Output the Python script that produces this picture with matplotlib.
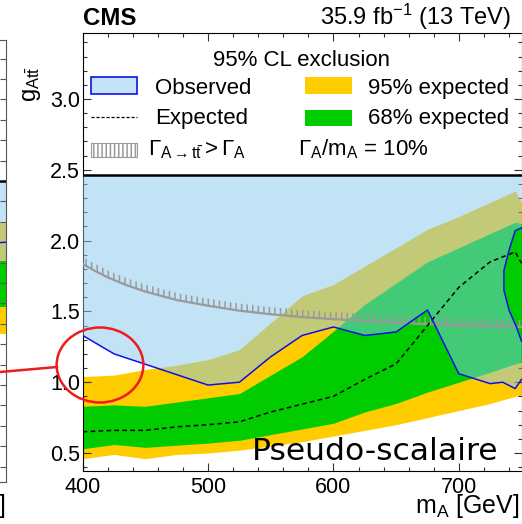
import matplotlib
matplotlib.use("Agg")
import matplotlib.pyplot as plt
from matplotlib.patches import Rectangle, Ellipse
from matplotlib.lines import Line2D
from matplotlib.ticker import MultipleLocator, FormatStrFormatter

plt.rcParams["font.family"] = ["Liberation Sans", "DejaVu Sans"]
plt.rcParams["mathtext.fontset"] = "custom"
plt.rcParams["mathtext.rm"] = "Liberation Sans"
plt.rcParams["mathtext.it"] = "Liberation Sans:italic"
plt.rcParams["mathtext.bf"] = "Liberation Sans:bold"
plt.rcParams["hatch.linewidth"] = 1.1

# ----------------------------
# Limits on g_Att (pseudoscalar A), Gamma_A/m_A = 10%
# ----------------------------
mass = [400, 425, 450, 475, 500, 525, 550, 575, 600, 625, 650, 675, 700, 725, 745, 750]
exp_median = [0.65, 0.66, 0.66, 0.685, 0.70, 0.72, 0.79, 0.845, 0.90, 1.02, 1.13, 1.40, 1.67, 1.85, 1.92, 1.84]
exp68_lo = [0.53, 0.56, 0.54, 0.555, 0.57, 0.59, 0.63, 0.67, 0.71, 0.79, 0.85, 0.93, 1.00, 1.07, 1.13, 1.14]
exp68_hi = [0.83, 0.84, 0.83, 0.86, 0.89, 0.92, 1.05, 1.18, 1.36, 1.55, 1.70, 1.85, 1.95, 2.05, 2.13, 2.12]
exp95_lo = [0.46, 0.49, 0.46, 0.49, 0.50, 0.52, 0.55, 0.58, 0.62, 0.66, 0.70, 0.75, 0.80, 0.85, 0.90, 0.91]
exp95_hi = [1.04, 1.05, 1.09, 1.12, 1.16, 1.23, 1.42, 1.61, 1.69, 1.82, 1.95, 2.08, 2.17, 2.27, 2.35, 2.27]

# observed limit, main contour
obs_mass = [400, 425, 500, 525, 550, 575, 600, 625, 650, 675, 700, 725, 735, 745, 750]
obs_g = [1.33, 1.20, 0.98, 1.00, 1.18, 1.33, 1.39, 1.33, 1.355, 1.51, 1.06, 0.99, 1.00, 0.955, 1.02]
# observed: allowed island at high mass
isl_mass = [750, 746, 740, 736, 736, 740, 745, 750]
isl_g = [1.29, 1.39, 1.51, 1.65, 1.79, 1.93, 2.07, 2.09]

# Gamma(A->tt) > Gamma_A boundary
width_mass = [400, 410, 420, 435, 450, 475, 500, 525, 550, 575, 600, 650, 700, 750]
width_g = [1.835, 1.785, 1.74, 1.685, 1.64, 1.58, 1.54, 1.505, 1.48, 1.46, 1.445, 1.42, 1.40, 1.39]

# neighbouring (scalar) panel, only its right edge is in view
h_mass = [700, 750]
h_exp95_lo = [1.75, 1.75]
h_exp95_hi = [2.30, 2.30]
h_exp68_lo = [1.88, 1.88]
h_exp68_hi = [2.11, 2.11]
h_obs = [2.15, 2.20]

G_TOP = 2.46          # top of the plotted region, legend lives above
YELLOW = "#ffcc00"
GREEN = "#00cc00"
OBS_FILL = "#87c9ef"
OBS_LINE = "#1010e6"
HATCH_GREY = "#9a9a9a"

W, H = 522, 524
fig = plt.figure(figsize=(W / 100, H / 100), dpi=100)


def fx(px):
    return px / W


def fy(py):
    return 1 - py / H


def style_ticks(a, labels=True):
    a.tick_params(which="both", direction="in", top=True, right=True,
                  color="#333333", width=0.8)
    a.tick_params(which="major", length=6)
    a.tick_params(which="minor", length=3)
    if labels:
        a.tick_params(axis="x", which="major", labelsize=15.5, pad=4.5)
        a.tick_params(axis="y", which="major", labelsize=15.5, pad=2)


# ----------------------------
# Scalar panel remnant on the left
# ----------------------------
ax0 = fig.add_axes([fx(-150), fy(482), fx(156), fy(40) - fy(482)])
ax0.set_xlim(700, 750)
ax0.set_ylim(2.5 - (482 - 181) / 204, 2.5 + (181 - 40) / 204)
ax0.fill_between(h_mass, h_exp95_lo, h_exp95_hi, color=YELLOW, lw=0)
ax0.fill_between(h_mass, h_exp68_lo, h_exp68_hi, color=GREEN, lw=0)
ax0.fill_between(h_mass, h_exp68_hi, [2.5, 2.5], color=OBS_FILL, alpha=0.5, lw=0)
ax0.plot(h_mass, h_obs, color=OBS_LINE, lw=1.0)
ax0.axhline(2.5, color="black", lw=1.8)
ax0.yaxis.set_major_locator(MultipleLocator(0.1))
ax0.tick_params(which="both", direction="in", right=True, left=False,
                labelleft=False, labelbottom=False, bottom=False,
                length=4.5, color="#555555")
for s in ax0.spines.values():
    s.set_color("#555555")
fig.text(fx(5), fy(513), r"m$_{\mathrm{H}}$ [GeV]", ha="right", va="baseline",
         fontsize=18)

# ----------------------------
# Main panel
# ----------------------------
AX_L, AX_R, AX_T, AX_B = 82.7, 521.5, 33, 471
ax = fig.add_axes([fx(AX_L), fy(AX_B), fx(AX_R) - fx(AX_L), fy(AX_T) - fy(AX_B)])
ax.set_xlim(400, 750)
ax.set_ylim(0.373, 3.466)

ax.fill_between(mass, exp95_lo, exp95_hi, color=YELLOW, lw=0, zorder=1)
ax.fill_between(mass, exp68_lo, exp68_hi, color=GREEN, lw=0, zorder=2)

# excluded region: above the observed curve, minus the allowed island
poly_x = obs_mass + isl_mass + [750, 400]
poly_y = obs_g + isl_g + [G_TOP, G_TOP]
ax.fill(poly_x, poly_y, color=OBS_FILL, alpha=0.5, lw=0, zorder=3)

# width boundary with hatching on the excluded side
ax.fill_between(width_mass, width_g, [g + 0.05 for g in width_g],
                facecolor="none", edgecolor=HATCH_GREY, hatch="|||", lw=0, zorder=4)
ax.plot(width_mass, width_g, color=HATCH_GREY, lw=1.6, zorder=4)

ax.plot(mass, exp_median, color="black", lw=1.1, dashes=(3, 2.2), zorder=5)
ax.plot(obs_mass, obs_g, color=OBS_LINE, lw=1.1, zorder=6)
ax.plot(isl_mass, isl_g, color=OBS_LINE, lw=1.1, zorder=6)
ax.axhline(G_TOP, color="black", lw=1.8, zorder=7)

ax.xaxis.set_major_locator(MultipleLocator(100))
ax.xaxis.set_minor_locator(MultipleLocator(20))
ax.yaxis.set_major_locator(MultipleLocator(0.5))
ax.yaxis.set_minor_locator(MultipleLocator(0.1))
ax.yaxis.set_major_formatter(FormatStrFormatter("%.1f"))
style_ticks(ax)
ax.set_yticks([0.5, 1.0, 1.5, 2.0, 2.5, 3.0])
for s in ax.spines.values():
    s.set_linewidth(0.8)

# ----------------------------
# Legend, drawn by hand in axes fraction
# ----------------------------
def axp(px, py):
    return (px - AX_L) / (AX_R - AX_L), (AX_B - py) / (AX_B - AX_T)


def box(px0, py0, px1, py1, **kw):
    x0, y0 = axp(px0, py1)
    x1, y1 = axp(px1, py0)
    ax.add_patch(Rectangle((x0, y0), x1 - x0, y1 - y0, transform=ax.transAxes,
                           zorder=8, **kw))


def label(px, py, text, **kw):
    x, y = axp(px, py)
    ax.text(x, y, text, transform=ax.transAxes, fontsize=16, va="baseline",
            zorder=8, **kw)


label(301.7, 66, "95% CL exclusion", ha="center")

box(90.7, 77.3, 137.3, 94, facecolor="#c3e4f7", edgecolor="#1010e6", lw=1.2)
label(155, 94, "Observed")
box(305, 77.3, 351.7, 94, facecolor=YELLOW, lw=0)
label(368.3, 94, "95% expected")

x0, y0 = axp(90.7, 117.3)
x1, _ = axp(137.3, 117.3)
ax.add_line(Line2D([x0, x1], [y0, y0], transform=ax.transAxes, color="black",
                   lw=0.9, dashes=(2.5, 1.5), zorder=8))
label(155, 124, "Expected")
box(305, 110, 351.7, 126, facecolor=GREEN, lw=0)
label(368.3, 124, "68% expected")

box(90.7, 143.3, 137.3, 156.7, facecolor="none", edgecolor=HATCH_GREY,
    hatch="||||", lw=0.8)
label(148.3, 155, r"$\Gamma_{\mathrm{A\rightarrow t\bar{t}}} > \Gamma_{\mathrm{A}}$")
label(298.3, 155, r"$\Gamma_{\mathrm{A}}$/m$_{\mathrm{A}}$ = 10%")

# ----------------------------
# Titles and axis labels
# ----------------------------
fig.text(fx(83), fy(25), "CMS", fontsize=17.3, fontweight="bold", va="baseline")
fig.text(fx(511), fy(25), r"35.9 fb$^{-1}$ (13 TeV)", fontsize=17, ha="right",
         va="baseline")
fig.text(fx(32), fy(66), r"g$_{\mathrm{At\bar{t}}}$", fontsize=17, rotation=90,
         ha="center", va="top")
fig.text(fx(519), fy(513), r"m$_{\mathrm{A}}$ [GeV]", fontsize=18, ha="right",
         va="baseline")

# slide annotation
fig.text(fx(252), fy(460), "Pseudo-scalaire", fontsize=22.6,
         family="DejaVu Sans", va="baseline")
fig.add_artist(Ellipse((fx(100), fy(365)), fx(86.7), 75 / H, transform=fig.transFigure,
                       fill=False, edgecolor="#ee1c1c", lw=1.8, zorder=20))
fig.add_artist(Line2D([fx(0), fx(57)], [fy(372), fy(367)], transform=fig.transFigure,
                      color="#ee1c1c", lw=1.8, zorder=20))

fig.savefig("out.png", dpi=100)
